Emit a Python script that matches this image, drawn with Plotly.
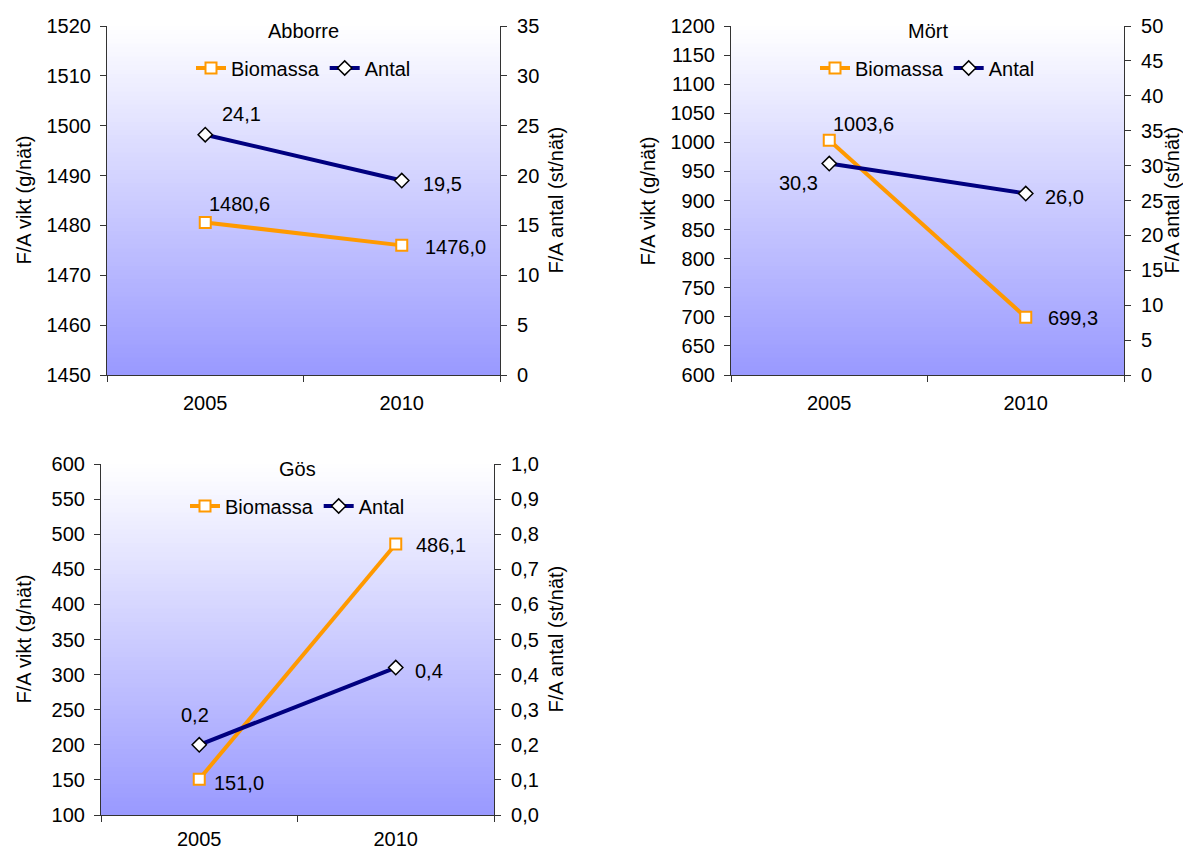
import plotly.graph_objects as go

# ---------------- data ----------------
years = ["2005", "2010"]
panel_titles = ["Abborre", "Mört", "Gös"]
series_names = ["Biomassa", "Antal"]

biomassa_abborre = [1480.6, 1476.0]
antal_abborre = [24.1, 19.5]
biomassa_mort = [1003.6, 699.3]
antal_mort = [30.3, 26.0]
biomassa_gos = [151.0, 486.1]
antal_gos = [0.2, 0.42]

left_ticks_abborre = [1450, 1520, 10]
right_ticks_abborre = [0, 35, 5]
left_ticks_mort = [600, 1200, 50]
right_ticks_mort = [0, 50, 5]
left_ticks_gos = [100, 600, 50]
right_ticks_gos = [0, 1.0, 0.1]

left_title = "F/A vikt (g/nät)"
right_title = "F/A antal (st/nät)"

# ---------------- style / layout helpers ----------------
PAGE_W, PAGE_H = 1191, 852
OFF = 8                      # default body margin of the html page
W, H = PAGE_W - OFF, PAGE_H - OFF
FONT = "Liberation Sans, Arial, sans-serif"
FS = 20
ORANGE = "#FF9900"
NAVY = "#000080"
AXIS_COL = "#333333"


def px(x):
    return (x - OFF) / W


def py(y):
    return 1 - (y - OFF) / H


def fmt(v):
    return f"{v:.1f}".replace(".", ",")


panels = [
    dict(title=panel_titles[0], bio=biomassa_abborre, ant=antal_abborre,
         lt=left_ticks_abborre, rt=right_ticks_abborre, rfmt=None,
         xl=107, xr=500, yt=26, yb=375, xn="x", yl="y", yr="y2", leg="legend",
         ltx=23, rtx=555, xstand=10,
         bio_off=[("left", 2, 18), ("left", 21, -2)],
         ant_off=[("left", 15, 21), ("left", 19, -3)]),
    dict(title=panel_titles[1], bio=biomassa_mort, ant=antal_mort,
         lt=left_ticks_mort, rt=right_ticks_mort, rfmt=None,
         xl=731, xr=1124, yt=26, yb=375, xn="x2", yl="y3", yr="y4", leg="legend2",
         ltx=647, rtx=1171, xstand=10,
         bio_off=[("left", 2, 16), ("left", 20, -1)],
         ant_off=[("right", -9, -19), ("left", 17, -3)]),
    dict(title=panel_titles[2], bio=biomassa_gos, ant=antal_gos,
         lt=left_ticks_gos, rt=right_ticks_gos, rfmt=".1f",
         xl=101, xr=494, yt=464, yb=815, xn="x3", yl="y5", yr="y6", leg="legend3",
         ltx=23, rtx=555, xstand=6,
         bio_off=[("left", 13, -4), ("left", 18, -1)],
         ant_off=[("center", -4, 30), ("left", 17, -3)]),
]

fig = go.Figure()
shapes = []
annotations = []
layout = {}


def axkey(name):
    return ("xaxis" if name[0] == "x" else "yaxis") + name[1:]


N = 80
for p in panels:
    # traces
    fig.add_trace(go.Scatter(
        x=years, y=p["bio"], name=series_names[0], mode="lines+markers",
        xaxis=p["xn"], yaxis=p["yl"], legend=p["leg"],
        line=dict(color=ORANGE, width=4),
        marker=dict(symbol="square", size=11, color="white",
                    line=dict(color=ORANGE, width=2)),
        hoverinfo="skip"))
    fig.add_trace(go.Scatter(
        x=years, y=p["ant"], name=series_names[1], mode="lines+markers",
        xaxis=p["xn"], yaxis=p["yr"], legend=p["leg"],
        line=dict(color=NAVY, width=4),
        marker=dict(symbol="diamond", size=11, color="white",
                    line=dict(color="black", width=1.5)),
        hoverinfo="skip"))

    xdom = [px(p["xl"]), px(p["xr"])]
    ydom = [py(p["yb"]), py(p["yt"])]
    layout[axkey(p["xn"])] = dict(
        domain=xdom, anchor=p["yl"], type="category", range=[-0.5, 1.5],
        tickson="boundaries", ticks="outside", ticklen=6, tickcolor=AXIS_COL,
        showline=True, linecolor=AXIS_COL, linewidth=1.2, showgrid=False,
        zeroline=False, tickfont=dict(size=FS, color="black"),
        ticklabelstandoff=p["xstand"], fixedrange=True, automargin=False)
    lt = p["lt"]
    layout[axkey(p["yl"])] = dict(
        domain=ydom, anchor=p["xn"], range=[lt[0], lt[1]], dtick=lt[2], tick0=lt[0],
        ticks="outside", ticklen=6, tickcolor=AXIS_COL, showline=True,
        linecolor=AXIS_COL, linewidth=1.2, showgrid=False, zeroline=False,
        tickfont=dict(size=FS, color="black"), ticklabelstandoff=5,
        fixedrange=True, automargin=False)
    rt = p["rt"]
    r = dict(
        overlaying=p["yl"], side="right", anchor=p["xn"], range=[rt[0], rt[1]],
        dtick=rt[2], tick0=rt[0], ticks="outside", ticklen=6, tickcolor=AXIS_COL,
        showline=True, linecolor=AXIS_COL, linewidth=1.2, showgrid=False,
        zeroline=False, tickfont=dict(size=FS, color="black"),
        ticklabelstandoff=6, fixedrange=True, automargin=False)
    if p["rfmt"]:
        r["tickformat"] = p["rfmt"]
    layout[axkey(p["yr"])] = r

    # legend
    cx = (p["xl"] + p["xr"]) / 2
    layout[p["leg"]] = dict(
        orientation="h", x=px(cx), xanchor="center", y=py(p["yt"] + 42),
        yanchor="middle", font=dict(size=FS, color="black"),
        bgcolor="rgba(0,0,0,0)", borderwidth=0, traceorder="normal")

    # gradient background
    for k in range(N):
        t = (k + 0.5) / N
        c = int(round(153 + 102 * t))
        shapes.append(dict(
            type="rect", xref=f"{p['xn']} domain", yref=f"{p['yl']} domain",
            x0=0, x1=1, y0=k / N, y1=min(1, (k + 1) / N + 0.003),
            fillcolor=f"rgb({c},{c},255)", line=dict(width=0), layer="below"))

    # titles
    annotations.append(dict(
        text=p["title"], xref="paper", yref="paper", x=px(cx), y=py(p["yt"] + 5),
        xanchor="center", yanchor="middle", showarrow=False,
        font=dict(size=FS, color="black")))
    cy = (p["yt"] + p["yb"]) / 2
    annotations.append(dict(
        text=left_title, xref="paper", yref="paper", x=px(p["ltx"]), y=py(cy),
        xanchor="center", yanchor="middle", textangle=-90, showarrow=False,
        font=dict(size=FS, color="black")))
    annotations.append(dict(
        text=right_title, xref="paper", yref="paper", x=px(p["rtx"]), y=py(cy),
        xanchor="center", yanchor="middle", textangle=-90, showarrow=False,
        font=dict(size=FS, color="black")))

    # data labels
    for vals, yref, offs in ((p["bio"], p["yl"], p["bio_off"]),
                             (p["ant"], p["yr"], p["ant_off"])):
        for i, v in enumerate(vals):
            anc, dx, dy = offs[i]
            annotations.append(dict(
                text=fmt(v), xref=p["xn"], yref=yref, x=i, y=v,
                xanchor=anc, yanchor="middle", xshift=dx, yshift=dy,
                showarrow=False, font=dict(size=FS, color="black")))

fig.update_layout(
    template="none",
    width=W, height=H, margin=dict(l=0, r=0, t=0, b=0, pad=0, autoexpand=False),
    paper_bgcolor="white", plot_bgcolor="rgba(0,0,0,0)",
    font=dict(family=FONT, size=FS, color="black"),
    separators=", ", showlegend=True,
    shapes=shapes, annotations=annotations, **layout)

fig.write_html("out.html")
